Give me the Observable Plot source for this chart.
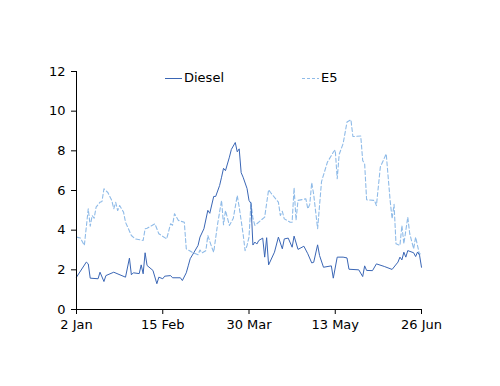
<!DOCTYPE html>
<html><head><meta charset="utf-8">
<script src="https://cdn.jsdelivr.net/npm/d3@7"></script>
<script src="https://cdn.jsdelivr.net/npm/@observablehq/plot@0.6"></script>
<style>
body{margin:0;background:#fff;font-family:"DejaVu Sans",sans-serif}
#wrap{position:relative;width:500px;height:386px}
.leg{position:absolute;top:70px;font-size:13px;color:#000;display:flex;align-items:center;line-height:16px}
.leg svg{display:block;margin-right:2px}
</style></head><body><div id="wrap"></div>
<script>
const startDate = "2024-01-02";
const tickDates = ["2024-01-02","2024-02-15","2024-03-30","2024-05-13","2024-06-26"];
const yTicks = [0,2,4,6,8,10,12];
const seriesNames = ["Diesel","E5"];
const seriesColors = ["#3a66b5","#8fbbe8"];

const dieselDays = [0,5,6,7,11,12,14,15,19,25,27,28,29,32,33,34,35,36,39,41,42,44,45,48,49,53,54,56,57,58,60,62,63,65,67,68,70,71,73,74,75,76,78,79,81,82,83,84,85,87,88,89,90,91,92,93,95,96,97,98,101,103,105,106,108,110,111,113,116,118,120,121,123,124,126,130,131,133,136,138,139,144,146,147,148,151,153,157,161,164,165,166,167,168,169,172,173,174,175,176];
const dieselValues = [1.63,2.39,2.3,1.58,1.55,1.88,1.41,1.71,1.88,1.63,2.59,1.75,1.85,1.81,2.25,1.8,2.86,2.22,1.97,1.3,1.63,1.55,1.68,1.71,1.6,1.6,1.46,1.85,2.2,2.56,2.89,3.23,3.65,4.07,5.0,4.85,5.7,5.7,6.25,6.67,7.12,7.0,7.68,8.07,8.42,7.95,8.1,6.9,6.67,6.1,5.5,5.35,3.25,3.4,3.3,3.48,3.6,2.64,3.62,2.25,2.89,3.65,3.06,3.56,3.6,3.14,3.7,3.03,3.19,2.81,2.35,2.38,3.26,2.72,2.13,2.2,1.58,2.64,2.64,2.6,2.03,2.0,1.66,2.2,1.97,1.96,2.3,2.17,2.02,2.39,2.64,2.5,2.89,2.64,2.97,2.86,2.67,2.9,2.74,2.13];

const e5Days = [0,2,4,6,7,8,9,10,12,13,14,16,18,19,20,21,22,24,25,28,30,34,35,36,40,42,46,48,49,50,52,55,56,59,62,63,64,66,67,69,70,72,74,75,76,78,80,82,83,85,86,87,88,89,90,91,94,96,98,99,103,104,105,106,109,110,111,112,113,117,118,119,120,121,123,125,128,131,132,133,134,136,138,140,141,145,146,147,148,152,153,155,158,160,161,162,163,165,166,167,169,170,172,173,175,176];
const e5Values = [3.65,3.6,3.23,5.08,4.2,4.74,4.6,5.16,5.41,5.45,6.09,5.9,5.5,5.08,5.4,4.99,5.24,4.91,4.4,3.73,3.56,3.48,4.07,4.1,4.32,3.82,3.56,4.32,4.25,4.83,4.49,4.4,3.06,2.89,2.76,3.0,2.85,2.97,3.73,3.14,2.89,4.32,5.5,4.27,4.99,4.24,4.6,5.75,5.16,3.8,2.97,3.23,3.65,5.4,4.6,4.24,4.49,4.66,6.04,5.9,5.41,4.74,4.95,4.57,4.4,4.4,6.14,4.5,5.5,5.58,5.08,5.3,6.4,5.8,4.07,6.45,7.43,7.93,8.05,6.59,7.82,8.36,9.45,9.57,8.72,8.75,7.51,7.34,5.53,5.5,5.24,7.18,7.85,5.5,4.57,5.3,3.31,3.23,4.24,3.31,4.66,3.82,3.06,3.65,2.77,2.9];

const start = new Date(startDate + "T00:00:00Z");
const toRows = (days, vals) => days.map((d, i) => ({date: d3.utcDay.offset(start, d), value: vals[i]}));
const diesel = toRows(dieselDays, dieselValues);
const e5 = toRows(e5Days, e5Values);
const ticks = tickDates.map(s => new Date(s + "T00:00:00Z"));

const chart = Plot.plot({
  width: 500, height: 386,
  marginLeft: 76, marginRight: 79, marginTop: 71, marginBottom: 77,
  style: {fontFamily: '"DejaVu Sans", sans-serif', fontSize: "13px", color: "#000", background: "#fff"},
  x: {type: "utc", domain: [ticks[0], ticks[ticks.length-1]]},
  y: {domain: [0, 12]},
  marks: [
    Plot.line(e5, {x: "date", y: "value", stroke: seriesColors[1], strokeWidth: 1.1, strokeDasharray: "4,2.5"}),
    Plot.line(diesel, {x: "date", y: "value", stroke: seriesColors[0], strokeWidth: 1}),
    Plot.ruleY([0], {stroke: "#000", strokeWidth: 1}),
    Plot.ruleX([ticks[0]], {y1: 0, y2: 12, stroke: "#000", strokeWidth: 1}),
    Plot.axisY({ticks: yTicks, tickSize: 5, tickPadding: 6, label: null, tickFormat: d => String(d), fontSize: 13}),
    Plot.axisX({ticks: ticks, tickSize: 5, tickPadding: 5, label: null, tickFormat: d3.utcFormat("%-d %b"), fontSize: 13})
  ]
});
const wrap = document.getElementById("wrap");
wrap.appendChild(chart);

const legPos = [165, 302];
seriesNames.forEach((name, i) => {
  const d = document.createElement("div");
  d.className = "leg";
  d.style.left = legPos[i] + "px";
  const dash = i === 1 ? ' stroke-dasharray="3,2"' : '';
  d.innerHTML = `<svg width="17" height="16"><line x1="0" x2="17" y1="8.5" y2="8.5" stroke="${seriesColors[i]}" stroke-width="1"${dash}/></svg><span>${name}</span>`;
  wrap.appendChild(d);
});
</script></body></html>
